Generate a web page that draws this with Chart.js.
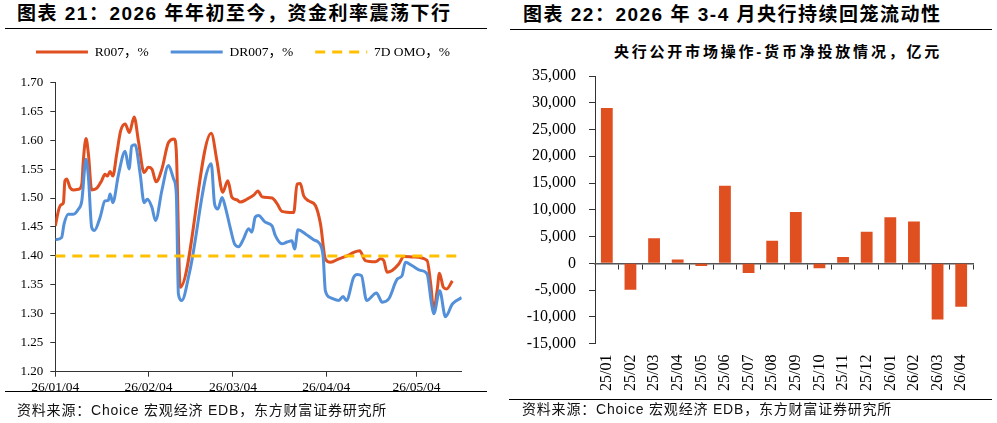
<!DOCTYPE html>
<html>
<head>
<meta charset="utf-8">
<script src="https://cdn.jsdelivr.net/npm/chart.js@4.4.1/dist/chart.umd.min.js"></script>
<style>
    body { margin: 0; background: #fff; }
    #page { position: relative; width: 997px; height: 423px; overflow: hidden; background: #fff; }
    .title { position: absolute; font: bold 19px "Liberation Sans", "Noto Sans CJK SC", sans-serif; letter-spacing: 1.5px; line-height: 20px; white-space: nowrap; color: #000; }
    .sub { position: absolute; font: bold 15px "Liberation Sans", "Noto Sans CJK SC", sans-serif; letter-spacing: 2.8px; line-height: 16px; white-space: nowrap; color: #000; text-align: center; }
    .src { position: absolute; font: 14px "Liberation Sans", "Noto Sans CJK SC", sans-serif; letter-spacing: 0.8px; line-height: 16px; white-space: nowrap; color: #111; }
    .rule { position: absolute; height: 0; border-top: 1.5px solid #000; }
    canvas { position: absolute; top: 0; }
</style>
</head>
<body>
<div id="page">
    <div class="title" style="left:17px; top:4px;">图表 21：2026 年年初至今，资金利率震荡下行</div>
    <div class="rule" style="left:5px; top:28px; width:482px;"></div>
    <div class="title" style="left:523px; top:5px;">图表 22：2026 年 3-4 月央行持续回笼流动性</div>
    <div class="rule" style="left:510px; top:29px; width:482px;"></div>
    <div class="sub" style="left:600px; top:44px; width:356px;">央行公开市场操作-货币净投放情况，亿元</div>

    <canvas id="rateChart" width="490" height="400" style="left:0px;"></canvas>
    <canvas id="omoChart" width="497" height="400" style="left:500px;"></canvas>

    <div class="rule" style="left:5px; top:391px; width:482px;"></div>
    <div class="src" style="left:17px; top:402px;">资料来源：Choice 宏观经济 EDB，东方财富证券研究所</div>
    <div class="rule" style="left:509px; top:399px; width:483px;"></div>
    <div class="src" style="left:522px; top:401px;">资料来源：Choice 宏观经济 EDB，东方财富证券研究所</div>
</div>
<script>
// left chart: days counted from 2026-01-04
const r007Days = [0, 1.3, 2.1, 2.7, 3.2, 3.8, 4.9, 6.0, 7.7, 8.8, 9.3, 10.2, 11.0, 12.1, 13.8, 15.4, 16.5, 17.3, 18.2, 19.1,
    20.4, 21.7, 23.2, 24.6, 26.2, 27.6, 29.5, 30.9, 32.1, 33.5, 35.4, 37.6, 39.5, 40.2, 41.5, 51.8, 53.7, 55.6, 57.3, 58.7,
    60.3, 61.4, 63.7, 65.9, 67.3, 68.7, 72.0, 73.7, 75.3, 79.2, 80.3, 81.4, 82.5, 84.2, 86.4, 88.1, 89.7, 91.4, 94.2, 96.9,
    99.1, 101.1, 103.0, 106.4, 108.0, 109.1, 110.2, 111.9, 114.1, 115.8, 119.1, 123.5, 124.7, 125.7, 126.9, 127.6, 128.9, 130.0, 131.9];
const r007 = [1.452, 1.483, 1.489, 1.492, 1.530, 1.533, 1.518, 1.514, 1.515, 1.524, 1.564, 1.603, 1.576, 1.514, 1.517, 1.530, 1.541, 1.538, 1.546, 1.538,
    1.576, 1.616, 1.628, 1.613, 1.640, 1.599, 1.544, 1.553, 1.550, 1.528, 1.550, 1.596, 1.602, 1.580, 1.346, 1.612, 1.564, 1.510, 1.530, 1.501,
    1.497, 1.493, 1.498, 1.505, 1.512, 1.502, 1.500, 1.490, 1.477, 1.475, 1.524, 1.525, 1.504, 1.495, 1.487, 1.455, 1.395, 1.389, 1.395, 1.400,
    1.406, 1.409, 1.392, 1.390, 1.395, 1.392, 1.372, 1.375, 1.386, 1.399, 1.398, 1.392, 1.352, 1.306, 1.343, 1.370, 1.346, 1.343, 1.357];

const dr007Days = [0, 2.1, 2.9, 4.3, 6.0, 7.7, 8.8, 10.2, 11.0, 12.1, 13.0, 14.9, 16.5, 17.6, 18.2, 19.1, 21.0, 23.2, 24.5, 25.4,
    26.5, 28.2, 29.5, 30.6, 32.1, 33.3, 35.4, 37.6, 39.3, 40.2, 40.9, 42.0, 44.6, 51.8, 52.9, 54.0, 55.4, 56.5, 58.1, 59.6,
    60.9, 62.5, 64.2, 65.3, 66.4, 67.5, 69.8, 72.0, 73.1, 75.3, 77.0, 78.6, 79.5, 80.6, 83.1, 85.8, 87.3, 88.4, 89.0, 89.7,
    91.4, 94.2, 95.6, 96.7, 99.1, 100.3, 101.7, 103.4, 106.7, 108.6, 110.8, 113.6, 115.2, 116.3, 118.6, 121.3, 123.5, 124.9, 125.7, 127.7,
    129.6, 131.9, 135];
const dr007 = [1.428, 1.432, 1.455, 1.472, 1.472, 1.481, 1.495, 1.567, 1.536, 1.449, 1.444, 1.467, 1.495, 1.496, 1.507, 1.492, 1.541, 1.581, 1.550, 1.590,
    1.592, 1.541, 1.492, 1.498, 1.484, 1.461, 1.513, 1.556, 1.533, 1.507, 1.334, 1.323, 1.372, 1.559, 1.490, 1.481, 1.501, 1.484, 1.449, 1.420,
    1.416, 1.429, 1.447, 1.441, 1.467, 1.470, 1.458, 1.452, 1.435, 1.421, 1.424, 1.426, 1.412, 1.445, 1.438, 1.428, 1.424, 1.415, 1.398, 1.340,
    1.328, 1.323, 1.330, 1.323, 1.363, 1.368, 1.366, 1.323, 1.336, 1.320, 1.326, 1.360, 1.366, 1.389, 1.383, 1.375, 1.369, 1.320, 1.300, 1.340,
    1.295, 1.317, 1.328];

const omoDays = [0, 135];
const omo = [1.40, 1.40];

const dateTickDays = [0, 31, 59, 90, 120];
const dateTickLabels = ["26/01/04", "26/02/04", "26/03/04", "26/04/04", "26/05/04"];

// right chart
const months = ["25/01", "25/02", "25/03", "25/04", "25/05", "25/06", "25/07", "25/08",
    "25/09", "25/10", "25/11", "25/12", "26/01", "26/02", "26/03", "26/04"];
const netInjection = [29000, -4950, 4700, 700, -500, 14500, -1800, 4200,
    9600, -900, 1200, 5900, 8600, 7800, -10500, -8100];

const serif = '"Liberation Serif", "Noto Sans CJK SC", serif';
const toPoints = (xs, ys) => xs.map((x, i) => ({ x: x, y: ys[i] }));

const lineStyle = {
    pointRadius: 0,
    pointHoverRadius: 0,
    pointHitRadius: 0,
    borderWidth: 3,
    cubicInterpolationMode: "monotone",
    borderJoinStyle: "round"
};

// legend sits lower than the default and is centred on the whole panel, not the plot
const legendSpacing = {
    id: "legendSpacing",
    beforeInit(chart) {
        const fit = chart.legend.fit;
        chart.legend.fit = function () {
            this.maxWidth = 480;
            fit.call(this);
            this.height += 13.5;
        };
    },
    afterLayout(chart) {
        chart.legend.left = 6;
        chart.legend.right = 480;
        chart.legend.width = 474;
    }
};

const rateChart = new Chart(document.getElementById("rateChart"), {
    type: "line",
    data: {
        datasets: [
            { label: "R007，%", data: toPoints(r007Days, r007), borderColor: "#DF4F20", order: 2, ...lineStyle },
            { label: "DR007，%", data: toPoints(dr007Days, dr007), borderColor: "#5390D9", order: 1, ...lineStyle },
            { label: "7D OMO，%", data: toPoints(omoDays, omo), borderColor: "#FFC000", borderDash: [10, 7], order: 0, ...lineStyle }
        ]
    },
    options: {
        responsive: false,
        animation: false,
        devicePixelRatio: 1,
        layout: { padding: { left: 0, right: 28.3, top: 23.25, bottom: 4.3 } },
        plugins: {
            legend: {
                position: "top",
                labels: {
                    usePointStyle: true,
                    pointStyle: "line",
                    pointStyleWidth: 52,
                    padding: 22,
                    color: "#000",
                    font: { family: serif, size: 13.5 },
                    sort: (a, b) => a.datasetIndex - b.datasetIndex,
                    generateLabels: (chart) => Chart.defaults.plugins.legend.labels.generateLabels(chart).map(item => {
                        const ds = chart.data.datasets[item.datasetIndex];
                        item.lineWidth = ds.borderWidth;
                        item.strokeStyle = ds.borderColor;
                        item.lineDash = ds.borderDash || [];
                        item.lineCap = "butt";
                        return item;
                    })
                }
            },
            tooltip: { enabled: false }
        },
        scales: {
            x: {
                type: "linear",
                min: 0,
                max: 135,
                afterBuildTicks: (scale) => { scale.ticks = dateTickDays.map(v => ({ value: v })); },
                afterFit: (scale) => { scale.height = 24; },
                ticks: {
                    autoSkip: false,
                    maxRotation: 0,
                    padding: 3,
                    color: "#000",
                    font: { family: serif, size: 13.5 },
                    callback: (v, i) => dateTickLabels[i]
                },
                grid: { drawOnChartArea: false, tickLength: 5, color: "#333" },
                border: { color: "#333" }
            },
            y: {
                min: 1.2,
                max: 1.7,
                afterFit: (scale) => { scale.width = 55.3; },
                ticks: {
                    stepSize: 0.05,
                    padding: 7,
                    color: "#000",
                    font: { family: serif, size: 13 },
                    callback: (v) => v.toFixed(2)
                },
                grid: { drawOnChartArea: false, tickLength: 5, color: "#333" },
                border: { color: "#333" }
            }
        }
    },
    plugins: [legendSpacing]
});

const omoChart = new Chart(document.getElementById("omoChart"), {
    type: "bar",
    data: {
        labels: months,
        datasets: [{
            data: netInjection,
            backgroundColor: "#DF4F20",
            barPercentage: 0.5,
            categoryPercentage: 1.0,
            xAxisID: "x",
            yAxisID: "y"
        }]
    },
    options: {
        responsive: false,
        animation: false,
        devicePixelRatio: 1,
        layout: { padding: { left: 0, right: 24, top: 76, bottom: 8.4 } },
        plugins: {
            legend: { display: false },
            tooltip: { enabled: false }
        },
        scales: {
            y: {
                min: -15000,
                max: 35000,
                afterFit: (scale) => { scale.width = 95; },
                ticks: {
                    stepSize: 5000,
                    padding: 13,
                    color: "#000",
                    font: { family: serif, size: 16 },
                    callback: (v) => v.toLocaleString("en-US")
                },
                grid: { drawOnChartArea: false, tickLength: 6, color: "#333" },
                border: { color: "#333" }
            },
            x: {
                type: "category",
                position: { y: 0 },
                offset: true,
                ticks: { display: false },
                grid: { offset: true, drawOnChartArea: false, tickLength: 5, color: "#333" },
                border: { color: "#555", width: 1.5 }
            },
            x2: {
                type: "category",
                position: "bottom",
                offset: true,
                afterFit: (scale) => { scale.height = 48; },
                ticks: {
                    minRotation: 90,
                    maxRotation: 90,
                    autoSkip: false,
                    padding: 11,
                    color: "#000",
                    font: { family: serif, size: 16 }
                },
                grid: { display: false, drawTicks: false },
                border: { display: false }
            }
        }
    }
});
</script>
</body>
</html>
